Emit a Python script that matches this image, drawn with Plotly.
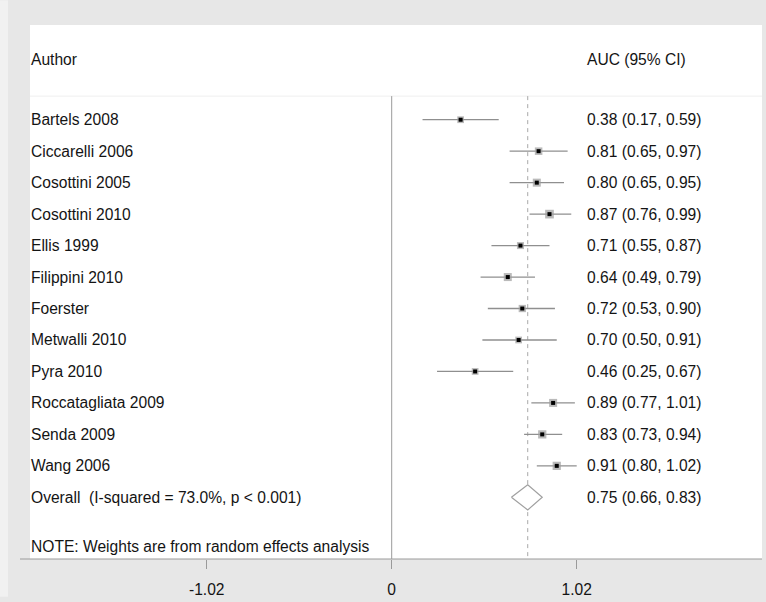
import plotly.graph_objects as go

# ---------------- data ----------------
authors = ["Bartels 2008", "Ciccarelli 2006", "Cosottini 2005", "Cosottini 2010",
           "Ellis 1999", "Filippini 2010", "Foerster", "Metwalli 2010", "Pyra 2010",
           "Roccatagliata 2009", "Senda 2009", "Wang 2006"]
auc = [0.38, 0.81, 0.80, 0.87, 0.71, 0.64, 0.72, 0.70, 0.46, 0.89, 0.83, 0.91]
ci_low = [0.17, 0.65, 0.65, 0.76, 0.55, 0.49, 0.53, 0.50, 0.25, 0.77, 0.73, 0.80]
ci_high = [0.59, 0.97, 0.95, 0.99, 0.87, 0.79, 0.90, 0.91, 0.67, 1.01, 0.94, 1.02]
weights = [6.0, 7.5, 8.5, 10.0, 6.5, 8.5, 7.0, 6.0, 6.0, 8.5, 9.0, 9.0]  # estimated

overall_label = "Overall  (I-squared = 73.0%, p < 0.001)"
overall_auc, overall_low, overall_high = 0.75, 0.66, 0.83
note_text = "NOTE: Weights are from random effects analysis"
header_left, header_right = "Author", "AUC (95% CI)"
tick_vals = [-1.02, 0, 1.02]
tick_text = ["-1.02", "0", "1.02"]

# ---------------- layout helpers ----------------
FONT = "Liberation Sans, Arial, Helvetica, sans-serif"
FS = 15.6
TXT = "#141414"
rows = list(range(1, len(authors) + 1))
overall_row = len(authors) + 1
note_row = overall_row + 1.57
header_row = -0.91
sep_row = 0.25
y_top, y_bot = -2.01, 14.96
x_min, x_max = -1.9943, 2.0417
x_left_text = -1.988
x_right_text = 1.075

fmt = lambda a, l, h: f"{a:.2f} ({l:.2f}, {h:.2f})"

fig = go.Figure()

# CI lines + weight boxes
fig.add_trace(go.Scatter(
    x=auc, y=rows, mode="markers",
    marker=dict(symbol="square", size=[2.75 * w ** 0.5 for w in weights],
                color="#9c9c9c", line=dict(width=0)),
    error_x=dict(type="data", symmetric=False,
                 array=[h - a for a, h in zip(auc, ci_high)],
                 arrayminus=[a - l for a, l in zip(auc, ci_low)],
                 width=0, color="#8f8f8f", thickness=1.3),
    hoverinfo="skip", showlegend=False))
# point estimates
fig.add_trace(go.Scatter(
    x=auc, y=rows, mode="markers",
    marker=dict(symbol="square", size=4, color="#000000"),
    hoverinfo="skip", showlegend=False))

# dashed overall line and zero line
fig.add_shape(type="line", xref="x", yref="y", x0=overall_auc, x1=overall_auc,
              y0=sep_row, y1=y_bot, line=dict(color="#a8a8a8", width=1, dash="4px,4px"),
              layer="below")
fig.add_shape(type="line", xref="x", yref="y", x0=0, x1=0,
              y0=sep_row, y1=y_bot, line=dict(color="#9a9a9a", width=1), layer="below")

# overall diamond
fig.add_trace(go.Scatter(
    x=[overall_low, overall_auc, overall_high, overall_auc, overall_low],
    y=[overall_row, overall_row - 0.4, overall_row, overall_row + 0.4, overall_row],
    mode="lines", fill="toself", fillcolor="white",
    line=dict(color="#a0a0a0", width=1.2), hoverinfo="skip", showlegend=False))

# separator line under header
fig.add_shape(type="line", xref="paper", yref="y", x0=0, x1=1, y0=sep_row, y1=sep_row,
              line=dict(color="#efefef", width=1), layer="below")
# axis line (extends slightly left of plot area)
fig.add_shape(type="line", xref="paper", yref="paper", x0=-10 / 732, x1=1, y0=0, y1=0,
              line=dict(color="#9a9a9a", width=1))
# light strip at far left
fig.add_shape(type="rect", xref="paper", yref="paper", x0=-30 / 732, x1=-22 / 732,
              y0=-38 / 539, y1=1 + 25 / 539, fillcolor="#f1f1f1", line=dict(width=0),
              layer="below")

ann = []
def add_text(x, y, t):
    ann.append(dict(x=x, y=y, xref="x", yref="y", text=t, showarrow=False,
                    xanchor="left", yanchor="middle", xshift=-2,
                    font=dict(family=FONT, size=FS, color=TXT)))

add_text(x_left_text, header_row, header_left)
add_text(x_right_text, header_row, header_right)
for r, name, a, l, h in zip(rows, authors, auc, ci_low, ci_high):
    add_text(x_left_text, r, name)
    add_text(x_right_text, r, fmt(a, l, h))
add_text(x_left_text, overall_row, overall_label)
add_text(x_right_text, overall_row, fmt(overall_auc, overall_low, overall_high))
add_text(x_left_text, note_row, note_text)

fig.update_layout(
    width=766, height=602,
    margin=dict(l=30, r=4, t=25, b=38, pad=0),
    paper_bgcolor="#e7e7e7", plot_bgcolor="white",
    annotations=ann, showlegend=False,
    xaxis=dict(range=[x_min, x_max], tickvals=tick_vals, ticktext=tick_text,
               ticks="outside", ticklen=9, tickcolor="#9a9a9a", tickwidth=1,
               showline=False, showgrid=False, zeroline=False,
               ticklabelstandoff=7,
               tickfont=dict(family=FONT, size=FS, color=TXT), fixedrange=True),
    yaxis=dict(range=[y_bot, y_top], visible=False, showgrid=False,
               zeroline=False, fixedrange=True),
)

fig.write_html("out.html")
